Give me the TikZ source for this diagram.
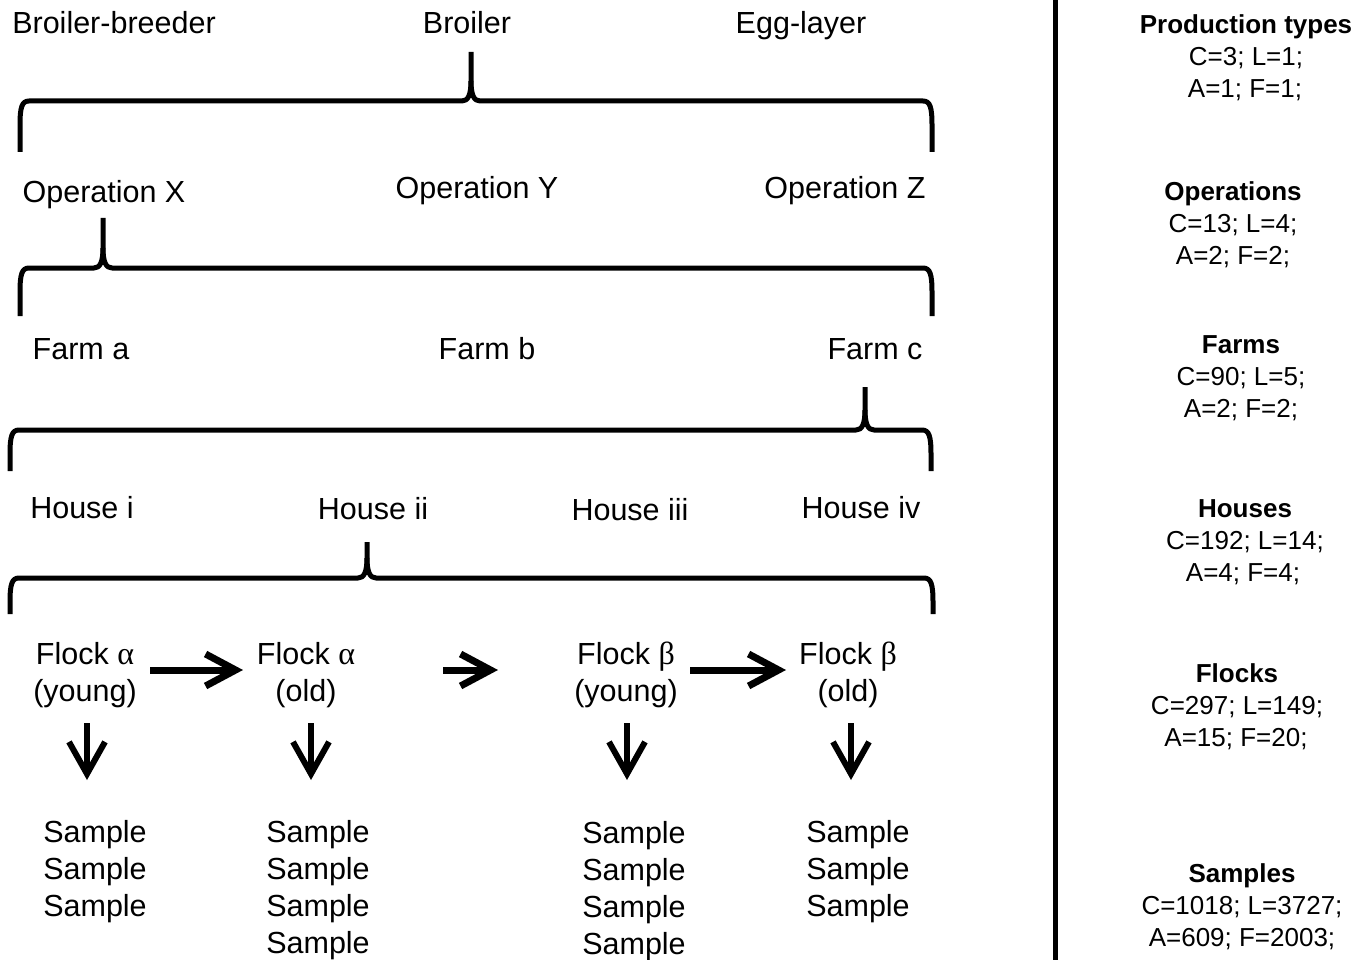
\documentclass[tikz,border=0pt]{standalone}
\usepackage{fontspec}
\setmainfont{Liberation Sans}
\newfontfamily\grk{Liberation Serif}
\usetikzlibrary{arrows.meta}
% #1 left x, #2 right x, #3 horizontal y, #4 bottom y, #5 tip x, #6 tip top y
\newcommand{\mybrace}[6]{%
  \draw[bracepath] (#1,#4) -- ({#1},{#3+24}) .. controls ({#1},{#3+6}) and ({#1+2},{#3}) .. ({#1+9},{#3})
    -- ({#5-9},{#3}) .. controls ({#5-3},{#3}) and ({#5},{#3-6}) .. ({#5},{#3-20}) -- (#5,#6);
  \draw[bracepath] ({#5},{#3-20}) .. controls ({#5},{#3-6}) and ({#5+3},{#3}) .. ({#5+9},{#3})
    -- ({#2-9},{#3}) .. controls ({#2-2},{#3}) and ({#2},{#3+6}) .. ({#2},{#3+24}) -- (#2,#4);
}
\begin{document}
\begin{tikzpicture}[x=1pt,y=-1pt,
  lab/.style={anchor=base, inner sep=0pt, font=\fontsize{30.5}{37}\selectfont},
  rlab/.style={anchor=base, inner sep=0pt, font=\fontsize{26}{32}\selectfont},
  rhead/.style={anchor=base, inner sep=0pt, font=\fontsize{26}{32}\selectfont\bfseries},
  bracepath/.style={line width=5pt, line join=round},
  harrow/.style={line width=7pt, -{Straight Barb[length=30pt,width=32pt]}},
  varrow/.style={line width=6pt, -{Straight Barb[length=32pt,width=36pt]}},
  sepline/.style={line width=5pt}]
\useasboundingbox (0,0) rectangle (1371,960);

% level labels
\node[lab] (pt1) at (114,34) {Broiler-breeder};
\node[lab] (pt2) at (467,34) {Broiler};
\node[lab] (pt3) at (801,34) {Egg-layer};
\mybrace{20}{932}{101}{152}{471}{52}

\node[lab] (op1) at (104,203) {Operation X};
\node[lab] (op2) at (477,199) {Operation Y};
\node[lab] (op3) at (845,199) {Operation Z};
\mybrace{20}{932}{268}{316}{103}{218}

\node[lab] (fa1) at (81,359) {Farm a};
\node[lab] (fa2) at (487,359) {Farm b};
\node[lab] (fa3) at (875,359) {Farm c};
\mybrace{10}{931}{430}{471}{865}{387}

\node[lab] (ho1) at (82,518) {House i};
\node[lab] (ho2) at (373,519) {House ii};
\node[lab] (ho3) at (630,520) {House iii};
\node[lab] (ho4) at (861,518) {House iv};
\mybrace{10}{933}{578}{614}{367}{542}

% flocks
\node[lab] (fl1a) at (85,664) {Flock {\grk\fontsize{32}{37}\selectfont α}};
\node[lab] (fl1b) at (85,701) {(young)};
\node[lab] (fl2a) at (306,664) {Flock {\grk\fontsize{32}{37}\selectfont α}};
\node[lab] (fl2b) at (306,701) {(old)};
\node[lab] (fl3a) at (626,664) {Flock {\grk\fontsize{32}{37}\selectfont β}};
\node[lab] (fl3b) at (626,701) {(young)};
\node[lab] (fl4a) at (848,664) {Flock {\grk\fontsize{32}{37}\selectfont β}};
\node[lab] (fl4b) at (848,701) {(old)};

% horizontal arrows
\coordinate (h1s) at (150,670); \coordinate (h1e) at (243,670);
\coordinate (h2s) at (443,670); \coordinate (h2e) at (498,670);
\coordinate (h3s) at (690,670); \coordinate (h3e) at (786,670);
\draw[harrow] (h1s) -- (h1e);
\draw[harrow] (h2s) -- (h2e);
\draw[harrow] (h3s) -- (h3e);

% vertical arrows
\foreach \i/\x in {1/87,2/311,3/627,4/851}{
  \coordinate (v\i s) at (\x,723);
  \coordinate (v\i e) at (\x,780);
  \draw[varrow] (v\i s) -- (v\i e);
}

% samples
\foreach \j/\y in {1/842,2/879,3/916}{
  \node[lab] (sa1\j) at (95,\y) {Sample};
  \node[lab] (sa4\j) at (858,\y) {Sample};
}
\foreach \j/\y in {1/842,2/879,3/916,4/953}{
  \node[lab] (sa2\j) at (318,\y) {Sample};
  \node[lab] (sa3\j) at (634,{\y+1}) {Sample};
}

% separator
\coordinate (sepT) at (1055,0);
\coordinate (sepB) at (1055,960);
\draw[sepline] (sepT) -- (sepB);

% right column
\node[rhead] (r1h) at (1246,34) {Production types};
\node[rlab] (r1a) at (1246,66) {C=3; L=1;};
\node[rlab] (r1b) at (1245,98) {A=1; F=1;};

\node[rhead] (r2h) at (1233,201) {Operations};
\node[rlab] (r2a) at (1233,233) {C=13; L=4;};
\node[rlab] (r2b) at (1233,265) {A=2; F=2;};

\node[rhead] (r3h) at (1241,353) {Farms};
\node[rlab] (r3a) at (1241,385) {C=90; L=5;};
\node[rlab] (r3b) at (1241,417) {A=2; F=2;};

\node[rhead] (r4h) at (1245,517) {Houses};
\node[rlab] (r4a) at (1245,549) {C=192; L=14;};
\node[rlab] (r4b) at (1243,581) {A=4; F=4;};

\node[rhead] (r5h) at (1237,682) {Flocks};
\node[rlab] (r5a) at (1237,714) {C=297; L=149;};
\node[rlab] (r5b) at (1236,746) {A=15; F=20;};

\node[rhead] (r6h) at (1242,882) {Samples};
\node[rlab] (r6a) at (1242,914) {C=1018; L=3727;};
\node[rlab] (r6b) at (1242,946) {A=609; F=2003;};
\end{tikzpicture}
\end{document}
